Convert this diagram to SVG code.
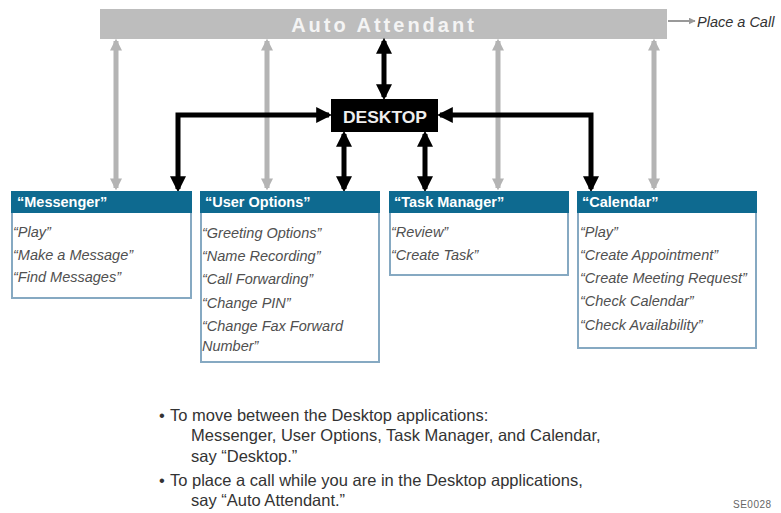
<svg xmlns="http://www.w3.org/2000/svg" width="781" height="513" viewBox="0 0 781 513">
<style>
.hdr{fill:#0e6a90}
.body{fill:#fff;stroke:#86a9c2;stroke-width:2}
.ht{font-family:"Liberation Sans",Arial,sans-serif;font-size:14.5px;font-weight:bold;fill:#fff}
.it{font-family:"Liberation Sans",Arial,sans-serif;font-size:14.5px;font-style:italic;fill:#505050}
.nt{font-family:"Liberation Sans",Arial,sans-serif;font-size:16.5px;fill:#333}
.g{stroke:#b4b4b4;stroke-width:5;fill:none;marker-start:url(#ga);marker-end:url(#ga)}
.b{stroke:#000;stroke-width:5;fill:none;marker-start:url(#ba);marker-end:url(#ba)}
</style>
<defs>
<marker id="ga" viewBox="0 0 10 10" refX="8" refY="5" markerWidth="2.4" markerHeight="2.4" orient="auto-start-reverse" markerUnits="strokeWidth"><path d="M0,0 L10,5 L0,10 Z" fill="#b4b4b4"/></marker>
<marker id="ba" viewBox="0 0 10 10" refX="8" refY="5" markerWidth="3.2" markerHeight="3.2" orient="auto-start-reverse" markerUnits="strokeWidth"><path d="M0,0 L10,5 L0,10 Z" fill="#000"/></marker>
<marker id="sa" viewBox="0 0 10 10" refX="9" refY="5" markerWidth="7" markerHeight="7" orient="auto" markerUnits="userSpaceOnUse"><path d="M0,0 L10,5 L0,10 Z" fill="#999"/></marker>
</defs>

<g id="auto-attendant">
<rect x="100" y="9" width="567" height="30" fill="#bdbdbd"/>
<text x="384" y="32" text-anchor="middle" font-family="Liberation Sans,Arial,sans-serif" font-size="20" font-weight="bold" fill="#f4f4f4" letter-spacing="3">Auto Attendant</text>
</g>
<g id="place-call">
<line x1="668" y1="21" x2="695" y2="21" stroke="#999" stroke-width="2" marker-end="url(#sa)"/>
<text x="697" y="27" class="it" style="fill:#333">Place a Call</text>
</g>

<g id="desktop">
<rect x="331" y="99" width="107" height="33" fill="#000"/>
<text x="343" y="123" font-family="Liberation Sans,Arial,sans-serif" font-size="17" font-weight="bold" fill="#eee" textLength="84" lengthAdjust="spacingAndGlyphs">DESKTOP</text>
</g>

<g id="connectors">
<line class="g" x1="116" y1="41" x2="116" y2="188"/>
<line class="g" x1="267" y1="41" x2="267" y2="188"/>
<line class="g" x1="498" y1="41" x2="498" y2="188"/>
<line class="g" x1="654" y1="41" x2="654" y2="188"/>
<line class="b" x1="384" y1="41" x2="384" y2="97"/>
<line class="b" x1="344" y1="134" x2="344" y2="189"/>
<line class="b" x1="425" y1="134" x2="425" y2="189"/>
<polyline class="b" points="329,115 178,115 178,189"/>
<polyline class="b" points="440,115 591,115 591,189"/>
</g>

<g id="messenger">
<rect class="body" x="12" y="192" width="179" height="106"/>
<rect class="hdr" x="11" y="191" width="181" height="22"/>
<text class="ht" x="17" y="207">“Messenger”</text>
<text class="it" x="13" y="237">“Play”</text>
<text class="it" x="13" y="260">“Make a Message”</text>
<text class="it" x="13" y="282">“Find Messages”</text>
</g>

<g id="user-options">
<rect class="body" x="201" y="192" width="178" height="170"/>
<rect class="hdr" x="200" y="191" width="180" height="22"/>
<text class="ht" x="205" y="207">“User Options”</text>
<text class="it" x="202" y="238">“Greeting Options”</text>
<text class="it" x="202" y="261">“Name Recording”</text>
<text class="it" x="202" y="284">“Call Forwarding”</text>
<text class="it" x="202" y="308">“Change PIN”</text>
<text class="it" x="202" y="331">“Change Fax Forward</text>
<text class="it" x="202" y="351">Number”</text>
</g>

<g id="task-manager">
<rect class="body" x="390" y="192" width="178" height="83"/>
<rect class="hdr" x="389" y="191" width="180" height="22"/>
<text class="ht" x="394" y="207">“Task Manager”</text>
<text class="it" x="391" y="237">“Review”</text>
<text class="it" x="391" y="260">“Create Task”</text>
</g>

<g id="calendar">
<rect class="body" x="578" y="192" width="178" height="156"/>
<rect class="hdr" x="577" y="191" width="180" height="22"/>
<text class="ht" x="582" y="207">“Calendar”</text>
<text class="it" x="580" y="237">“Play”</text>
<text class="it" x="580" y="260">“Create Appointment”</text>
<text class="it" x="580" y="283">“Create Meeting Request”</text>
<text class="it" x="580" y="306">“Check Calendar”</text>
<text class="it" x="580" y="330">“Check Availability”</text>
</g>

<g id="notes">
<text class="nt" x="159" y="421">•</text>
<text class="nt" x="170" y="421">To move between the Desktop applications:</text>
<text class="nt" x="191" y="441">Messenger, User Options, Task Manager, and Calendar,</text>
<text class="nt" x="191" y="462">say “Desktop.”</text>
<text class="nt" x="159" y="486">•</text>
<text class="nt" x="170" y="486">To place a call while you are in the Desktop applications,</text>
<text class="nt" x="191" y="506">say “Auto Attendant.”</text>
<text x="733" y="508" font-family="Liberation Sans,Arial,sans-serif" font-size="10" fill="#666" letter-spacing="0.5">SE0028</text>
</g>
</svg>
